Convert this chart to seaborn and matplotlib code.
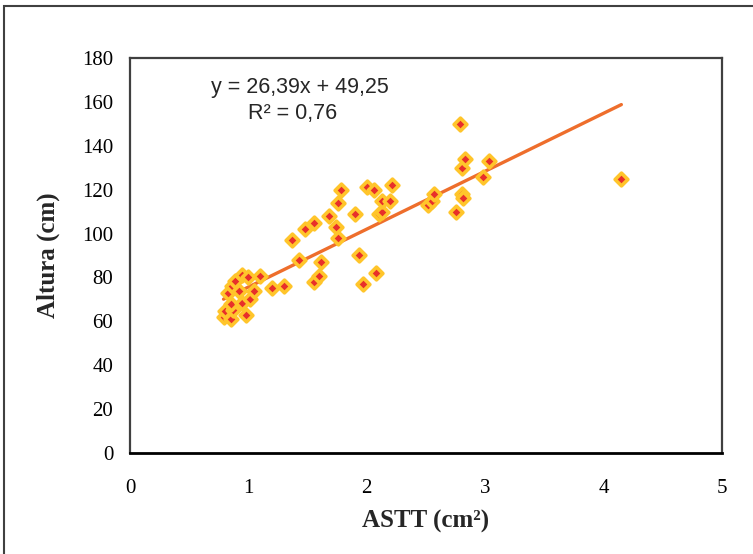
import seaborn as sns
import matplotlib.pyplot as plt
import matplotlib.patches as patches
import pandas as pd
import numpy as np

# ASTT (cm2) vs Altura (cm)
astt = [0.79, 0.85, 0.80, 0.87, 0.98, 0.85, 0.95, 1.01, 0.83, 0.86,
        0.92, 1.05, 0.89, 0.95, 1.00, 1.10, 1.20, 1.30, 1.37, 1.43,
        1.48, 1.55, 1.55, 1.60, 1.61, 1.68, 1.74, 1.76, 1.76, 1.78,
        1.90, 1.93, 1.97, 2.00, 2.06, 2.08, 2.10, 2.13, 2.13, 2.20,
        2.21, 2.52, 2.55, 2.57, 2.75, 2.79, 2.80, 2.83, 2.80, 2.81,
        2.98, 3.03, 4.15]
altura = [62, 61, 64.5, 65, 63, 68, 68.5, 70, 73, 76,
          74, 74, 78.5, 81, 80, 80.5, 75, 76, 97, 88,
          102, 105, 78, 80.5, 87, 108, 103, 98, 114, 120,
          109, 90, 77, 121, 120, 82, 109, 110, 115, 115,
          122, 113, 115, 118, 110, 150, 130, 134, 118, 116,
          126, 133, 125]

# trend line as printed on the chart
slope = 26.39
intercept = 49.25
eq_text = "y = 26,39x + 49,25"
r2_text = "R² = 0,76"

LINE_ORANGE = "#EE6E2C"
MARK_GOLD = "#FFC52B"
MARK_RED = "#E8302A"
FRAME = "#404040"

W, H = 753, 554

sns.set_style("white")
plt.rcParams['font.family'] = ['Liberation Serif', 'DejaVu Serif']

df = pd.DataFrame({"ASTT": astt, "Altura": altura})
x_fit = np.array([min(astt), max(astt)])
fit = pd.DataFrame({"ASTT": x_fit, "Altura": slope * x_fit + intercept})

fig = plt.figure(figsize=(W / 100, H / 100), dpi=100)
ax = fig.add_axes([130 / W, 1 - 453 / H, 592 / W, 395 / H])

sns.lineplot(data=fit, x="ASTT", y="Altura", color=LINE_ORANGE, linewidth=2.4, ax=ax, zorder=2)
sns.scatterplot(data=df, x="ASTT", y="Altura", marker="D", s=42,
                color=MARK_RED, edgecolor=MARK_GOLD, linewidth=2.6, ax=ax, zorder=3)

ax.set_xlim(0, 5)
ax.set_ylim(0, 180)
ax.set_xticks(range(0, 6))
ax.set_yticks(range(0, 181, 20))
ax.tick_params(direction="out", length=5, width=1.2, colors="black", labelsize=15)
ax.tick_params(axis="x", pad=14)
ax.tick_params(axis="y", pad=7)
for s in ax.spines.values():
    s.set_color(FRAME)
    s.set_linewidth(1.6)
ax.spines['bottom'].set_color("black")
ax.spines['bottom'].set_linewidth(2)

ax.set_xlabel("ASTT (cm²)", fontsize=18, fontweight="bold", labelpad=8)
ax.set_ylabel("Altura (cm)", fontsize=18, fontweight="bold", labelpad=16)

fig.text(300 / W, 1 - 88 / H, eq_text, ha="center", va="center",
         fontsize=15.5, family="Liberation Sans")
fig.text(293 / W, 1 - 113 / H, r2_text, ha="center", va="center",
         fontsize=15.5, family="Liberation Sans")

# outer chart frame
fig.patches.append(patches.Rectangle((4 / W, -0.1), 1.2, 1.1 - 6 / H, transform=fig.transFigure,
                                     fill=False, edgecolor=FRAME, linewidth=1.5))

fig.savefig("out.png", dpi=100, facecolor="white")
